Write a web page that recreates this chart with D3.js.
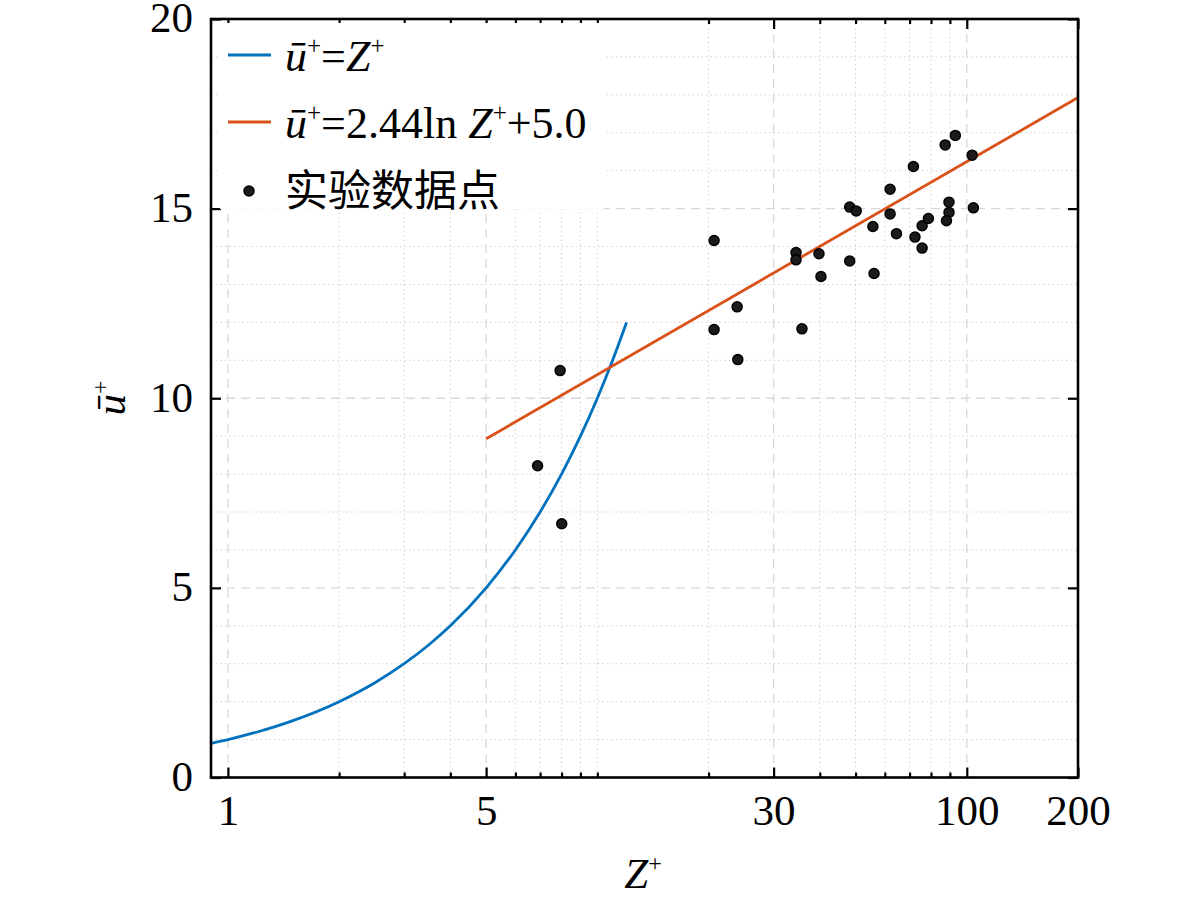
<!DOCTYPE html>
<html>
<head>
<meta charset="utf-8">
<script src="https://cdn.jsdelivr.net/npm/d3@7"></script>
<style>
  body { margin: 0; background: #fff; }
  text { font-family: "Liberation Serif", "DejaVu Serif", serif; fill: #000; }
  .cjk { font-family: "Noto Sans CJK SC", sans-serif; }
</style>
</head>
<body>
<div id="chart"></div>
<script>
// x values (Z+) of the viscous sublayer curve u+ = Z+, and its u+ values
const sublayerZ = [0.9, 1, 1.2, 1.5, 2, 2.5, 3, 3.5, 4, 5, 6, 7, 8, 9, 10, 11, 12];
const sublayerU = [0.9, 1, 1.2, 1.5, 2, 2.5, 3, 3.5, 4, 5, 6, 7, 8, 9, 10, 11, 12];

// log-law line end points
const logLawZ = [5, 200];
const logLawU = [8.93, 17.93];

// measured points
const expZ = [6.89, 7.93, 8.01, 20.7, 20.7, 23.9, 24.0, 34.5, 34.5, 39.8, 40.3, 35.8,
  48.2, 50.2, 48.2, 55.7, 56.1, 62.0, 62.0, 64.5, 71.7, 72.4, 75.7, 78.7, 75.7,
  87.4, 93.1, 103.4, 89.5, 89.5, 88.1, 104.2];
const expU = [8.22, 10.73, 6.69, 14.16, 11.81, 12.41, 11.02, 13.84, 13.65, 13.81, 13.21, 11.83,
  15.04, 14.94, 13.62, 14.53, 13.29, 15.51, 14.86, 14.34, 16.11, 14.25, 14.55, 14.74, 13.96,
  16.68, 16.93, 16.41, 15.17, 14.90, 14.68, 15.02];

const xMajor = [1, 5, 30, 100, 200];
const xMinor = [2, 3, 4, 6, 7, 8, 9, 10, 20, 40, 50, 60, 70, 80, 90];
const yMajor = [0, 5, 10, 15, 20];
const yMinor = d3.range(0, 21);

const W = 1181, H = 903;
const margin = { top: 19, right: 103, bottom: 125.5, left: 211 };
const width = W - margin.left - margin.right,
      height = H - margin.top - margin.bottom;

const svg = d3.select("#chart").append("svg")
    .attr("width", W)
    .attr("height", H);

const g = svg.append("g")
    .attr("transform", "translate(" + [margin.left, margin.top] + ")");

const x = d3.scaleLog().domain([0.9, 200]).range([0, width]);
const y = d3.scaleLinear().domain([0, 20]).range([height, 0]);

// grid
const grid = g.append("g").attr("class", "grid");
grid.selectAll(".vminor").data(xMinor).enter().append("line")
    .attr("x1", d => x(d)).attr("x2", d => x(d))
    .attr("y1", 0).attr("y2", height)
    .attr("stroke", "#d2d2d2").attr("stroke-width", 1).attr("stroke-dasharray", "1.5,3");
grid.selectAll(".hminor").data(yMinor.filter(d => d % 5 != 0)).enter().append("line")
    .attr("x1", 0).attr("x2", width)
    .attr("y1", d => y(d)).attr("y2", d => y(d))
    .attr("stroke", "#d2d2d2").attr("stroke-width", 1).attr("stroke-dasharray", "1.5,3");
grid.selectAll(".vmajor").data(xMajor.filter(d => d < 200)).enter().append("line")
    .attr("x1", d => x(d)).attr("x2", d => x(d))
    .attr("y1", 0).attr("y2", height)
    .attr("stroke", "#d9d9d9").attr("stroke-width", 1.3).attr("stroke-dasharray", "9,6");
grid.selectAll(".hmajor").data(yMajor.filter(d => d > 0 && d < 20)).enter().append("line")
    .attr("x1", 0).attr("x2", width)
    .attr("y1", d => y(d)).attr("y2", d => y(d))
    .attr("stroke", "#d9d9d9").attr("stroke-width", 1.3).attr("stroke-dasharray", "9,6");

// curves
const line = d3.line()
    .x(d => x(d[0]))
    .y(d => y(d[1]))
    .curve(d3.curveMonotoneX);

g.append("path")
    .datum(d3.zip(sublayerZ, sublayerU))
    .attr("d", line)
    .attr("fill", "none")
    .attr("stroke", "#0072BD")
    .attr("stroke-width", 2.8);

g.append("path")
    .datum(d3.zip(logLawZ, logLawU))
    .attr("d", d3.line().x(d => x(d[0])).y(d => y(d[1])))
    .attr("fill", "none")
    .attr("stroke", "#D95319")
    .attr("stroke-width", 2.8);

g.selectAll("circle.pt")
    .data(d3.zip(expZ, expU))
    .enter().append("circle")
    .attr("class", "pt")
    .attr("cx", d => x(d[0]))
    .attr("cy", d => y(d[1]))
    .attr("r", 5)
    .attr("fill", "#1c1a1a")
    .attr("stroke", "#000")
    .attr("stroke-width", 1.5);

// axes, ticks pointing in, mirrored on top/right
const fmt = d3.format("d");
const xAxis = g.append("g")
    .attr("transform", "translate(0," + height + ")")
    .call(d3.axisBottom(x).tickValues(xMajor).tickFormat(fmt).tickSizeInner(-10).tickSizeOuter(0).tickPadding(17));
const xAxisMinor = g.append("g")
    .attr("transform", "translate(0," + height + ")")
    .call(d3.axisBottom(x).tickValues(xMinor).tickFormat("").tickSizeInner(-5).tickSizeOuter(0));
const xTop = g.append("g")
    .call(d3.axisTop(x).tickValues(xMajor).tickFormat("").tickSizeInner(-10).tickSizeOuter(0));
const xTopMinor = g.append("g")
    .call(d3.axisTop(x).tickValues(xMinor).tickFormat("").tickSizeInner(-5).tickSizeOuter(0));
const yAxis = g.append("g")
    .call(d3.axisLeft(y).tickValues(yMajor).tickFormat(fmt).tickSizeInner(-10).tickSizeOuter(0).tickPadding(18));
const yRight = g.append("g")
    .attr("transform", "translate(" + width + ",0)")
    .call(d3.axisRight(y).tickValues(yMajor).tickFormat("").tickSizeInner(-10).tickSizeOuter(0));

[xAxis, xAxisMinor, xTop, xTopMinor, yAxis, yRight].forEach(a => {
    a.select(".domain").remove();
    a.selectAll(".tick line").attr("stroke", "#000").attr("stroke-width", 2.2);
    a.selectAll(".tick text").style("font-family", "'Liberation Serif', serif").style("font-size", "43px").attr("fill", "#000");
});
yAxis.selectAll(".tick text").attr("dy", "0.3em");

g.append("rect")
    .attr("width", width).attr("height", height)
    .attr("fill", "none").attr("stroke", "#000").attr("stroke-width", 2.6);

// axis labels
const xl = svg.append("text")
    .attr("x", 643).attr("y", 888)
    .attr("text-anchor", "middle")
    .style("font-size", "43px");
xl.append("tspan").attr("font-style", "italic").text("Z");
xl.append("tspan").attr("dy", -17).style("font-size", "24px").text("+");

const yl = svg.append("text")
    .attr("transform", "translate(125,398) rotate(-90)")
    .attr("text-anchor", "middle")
    .style("font-size", "43px");
yl.append("tspan").attr("font-style", "italic").text("ū");
yl.append("tspan").attr("dy", -17).style("font-size", "24px").text("+");

// legend
const legend = g.append("g").attr("transform", "translate(9,4)");
legend.append("rect")
    .attr("width", 384).attr("height", 186)
    .attr("fill", "#fff");

const rows = [
    { color: "#0072BD", type: "line", parts: [["ū", "i"], ["+", "s"], ["=", ""], ["Z", "i"], ["+", "s"]] },
    { color: "#D95319", type: "line", parts: [["ū", "i"], ["+", "s"], ["=2.44ln ", ""], ["Z", "i"], ["+", "s"], ["+5.0", ""]] },
    { color: "#000", type: "dot", parts: [["实验数据点", "c"]] }
];

rows.forEach((r, i) => {
    const row = legend.append("g").attr("transform", "translate(0," + (32 + i * 67) + ")");
    if (r.type == "line") {
        row.append("line").attr("x1", 8).attr("x2", 51).attr("y1", 0).attr("y2", 0)
            .attr("stroke", r.color).attr("stroke-width", 2.8);
    } else {
        row.append("circle").attr("cx", 29).attr("cy", 2).attr("r", 5)
            .attr("fill", "#1c1a1a").attr("stroke", "#000").attr("stroke-width", 1.5);
    }
    const t = row.append("text").attr("x", 65).attr("y", 16).style("font-size", "44px");
    let up = false;
    r.parts.forEach(p => {
        const s = t.append("tspan").text(p[0]);
        if (p[1] == "i") s.attr("font-style", "italic");
        if (p[1] == "c") s.attr("class", "cjk").style("font-size", "43px").attr("dy", 1);
        if (p[1] == "s") { s.style("font-size", "25px").attr("dy", -17); up = true; }
        else if (up) { s.attr("dy", 17); up = false; }
    });
});
</script>
</body>
</html>
